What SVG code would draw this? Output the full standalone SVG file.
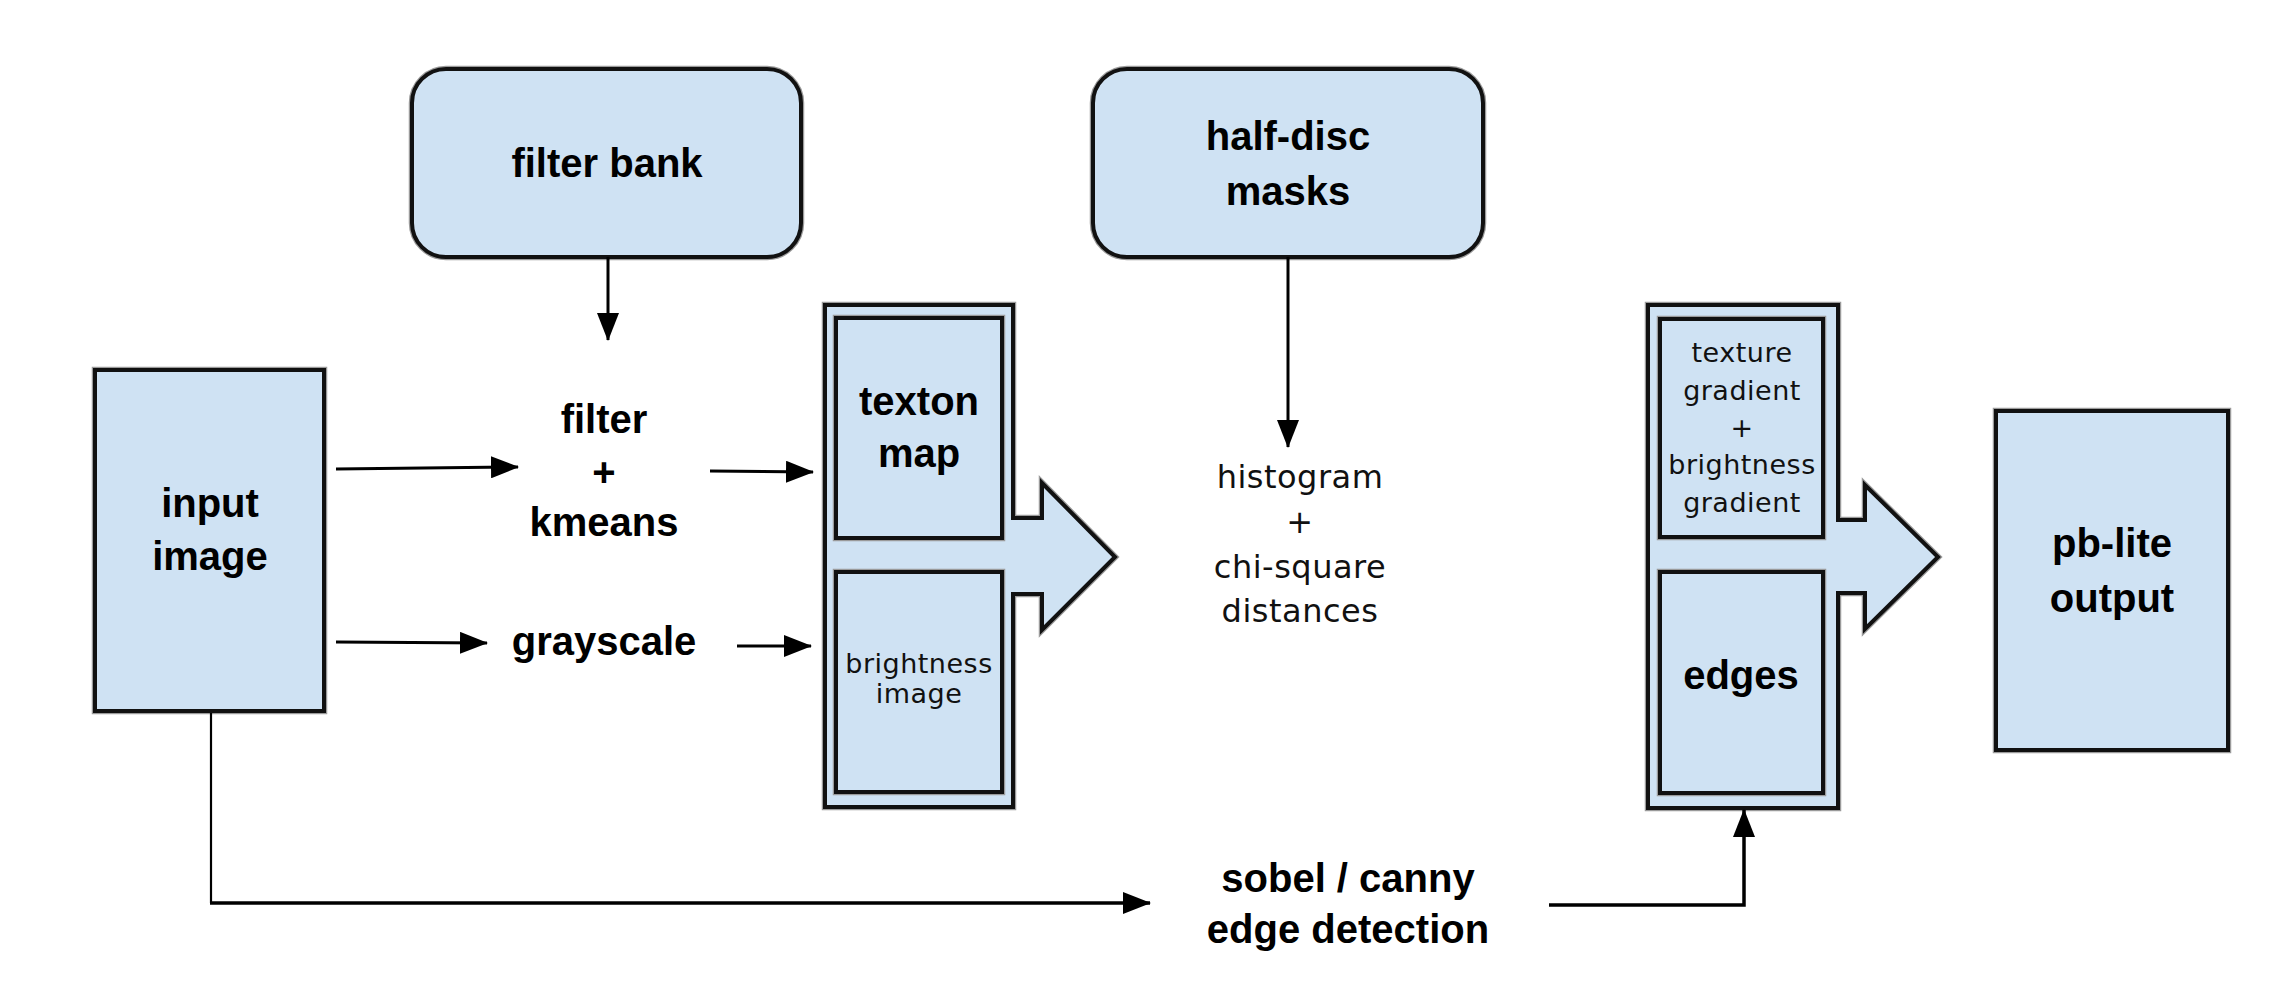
<svg xmlns="http://www.w3.org/2000/svg" width="2292" height="992" viewBox="0 0 2292 992">
<defs>
<style>
.box{fill:#cfe2f3;stroke:#111;stroke-width:4;stroke-linejoin:miter}
.halo{fill:none;stroke:#9a9a9a;stroke-width:6.5;stroke-linejoin:miter}
.lbl{font-family:"Liberation Sans",Arial,sans-serif;font-weight:bold;font-size:40px;fill:#000;text-anchor:middle}
.thin{font-family:"DejaVu Sans",sans-serif;font-size:27px;fill:#111;text-anchor:middle;letter-spacing:0.5px}
.mid{font-family:"DejaVu Sans",sans-serif;font-size:32px;fill:#111;text-anchor:middle;letter-spacing:0.5px}
.con{fill:none;stroke:#000;stroke-width:3}
</style>
<marker id="ah" markerUnits="userSpaceOnUse" markerWidth="28" markerHeight="22" refX="27" refY="11" orient="auto">
<path d="M0,0 L28,11 L0,22 Z" fill="#000"/>
</marker>
</defs>
<rect width="2292" height="992" fill="#fff"/>

<g id="filter-bank">
<rect class="halo" x="412" y="69" width="389" height="188" rx="34"/>
<rect class="box" x="412" y="69" width="389" height="188" rx="34"/>
<text class="lbl" x="607" y="177">filter bank</text>
</g>

<g id="half-disc-masks">
<rect class="halo" x="1093" y="69" width="390" height="188" rx="34"/>
<rect class="box" x="1093" y="69" width="390" height="188" rx="34"/>
<text class="lbl" x="1288" y="150">half-disc</text>
<text class="lbl" x="1288" y="205">masks</text>
</g>

<g id="input-image">
<rect class="halo" x="95" y="370" width="229" height="341"/>
<rect class="box" x="95" y="370" width="229" height="341"/>
<text class="lbl" x="210" y="517">input</text>
<text class="lbl" x="210" y="570">image</text>
</g>

<g id="filter-kmeans">
<text class="lbl" x="604" y="433">filter</text>
<text class="lbl" x="604" y="486">+</text>
<text class="lbl" x="604" y="536">kmeans</text>
</g>

<g id="grayscale">
<text class="lbl" x="604" y="655">grayscale</text>
</g>

<g id="texton-brightness">
<path class="halo" d="M825,305 H1013 V518 H1042 V483 L1115,557 L1042,630 V594 H1013 V807 H825 Z"/>
<path class="box" d="M825,305 H1013 V518 H1042 V483 L1115,557 L1042,630 V594 H1013 V807 H825 Z"/>
<rect class="halo" x="836" y="318" width="166" height="220"/>
<rect class="box" x="836" y="318" width="166" height="220"/>
<rect class="halo" x="836" y="572" width="166" height="220"/>
<rect class="box" x="836" y="572" width="166" height="220"/>
<text class="lbl" x="919" y="415">texton</text>
<text class="lbl" x="919" y="467">map</text>
<text class="thin" x="919" y="673">brightness</text>
<text class="thin" x="919" y="703">image</text>
</g>

<g id="histogram">
<text class="mid" x="1300" y="488">histogram</text>
<text class="mid" x="1300" y="533">+</text>
<text class="mid" x="1300" y="578">chi-square</text>
<text class="mid" x="1300" y="622">distances</text>
</g>

<g id="gradients-edges">
<path class="halo" d="M1648,305 H1838 V520 H1865 V485 L1938,557 L1865,629 V593 H1838 V808 H1648 Z"/>
<path class="box" d="M1648,305 H1838 V520 H1865 V485 L1938,557 L1865,629 V593 H1838 V808 H1648 Z"/>
<rect class="halo" x="1660" y="319" width="163" height="218"/>
<rect class="box" x="1660" y="319" width="163" height="218"/>
<rect class="halo" x="1660" y="572" width="163" height="221"/>
<rect class="box" x="1660" y="572" width="163" height="221"/>
<text class="thin" x="1742" y="362">texture</text>
<text class="thin" x="1742" y="400">gradient</text>
<text class="thin" x="1742" y="437">+</text>
<text class="thin" x="1742" y="474">brightness</text>
<text class="thin" x="1742" y="512">gradient</text>
<text class="lbl" x="1741" y="689">edges</text>
</g>

<g id="pb-lite-output">
<rect class="halo" x="1996" y="411" width="232" height="339"/>
<rect class="box" x="1996" y="411" width="232" height="339"/>
<text class="lbl" x="2112" y="557">pb-lite</text>
<text class="lbl" x="2112" y="612">output</text>
</g>

<g id="sobel-canny">
<text class="lbl" x="1348" y="892">sobel / canny</text>
<text class="lbl" x="1348" y="943">edge detection</text>
</g>

<g id="connectors">
<line class="con" x1="608" y1="257" x2="608" y2="340" marker-end="url(#ah)"/>
<line class="con" x1="1288" y1="257" x2="1288" y2="447" marker-end="url(#ah)"/>
<line class="con" x1="336" y1="469" x2="518" y2="467" marker-end="url(#ah)"/>
<line class="con" x1="710" y1="471" x2="813" y2="472" marker-end="url(#ah)"/>
<line class="con" x1="336" y1="642" x2="487" y2="643" marker-end="url(#ah)"/>
<line class="con" x1="737" y1="646" x2="811" y2="646" marker-end="url(#ah)"/>
<line class="con" style="stroke-width:2.2" x1="211" y1="713" x2="211" y2="903"/>
<line class="con" style="stroke-width:3.5" x1="210" y1="903" x2="1150" y2="903" marker-end="url(#ah)"/>
<polyline class="con" style="stroke-width:3.5" points="1549,905 1744,905 1744,810" marker-end="url(#ah)"/>
</g>
</svg>
